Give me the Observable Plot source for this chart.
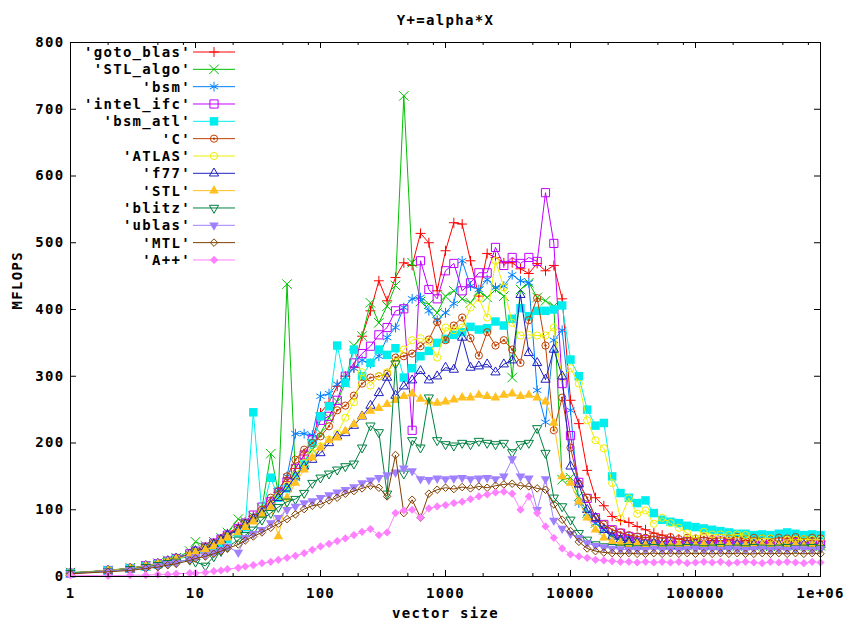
<!DOCTYPE html>
<html><head><meta charset="utf-8">
<script src="https://cdn.jsdelivr.net/npm/d3@7"></script>
<script src="https://cdn.jsdelivr.net/npm/@observablehq/plot@0.6"></script>
<style>
body{margin:0;background:#fff;}
#wrap{position:relative;width:845px;height:628px;background:#fff;}
#legend{position:absolute;left:0;top:0;pointer-events:none;}
</style></head><body><div id="wrap"></div>
<script>
// vector sizes (x)
const sizes = [1,2,3,4,5,6,7,9,10,12,
 14,16,18,22,25,29,34,40,46,54,
 63,74,86,100,117,136,158,185,215,251,
 293,341,398,464,541,631,736,858,1000,1166,
 1359,1585,1848,2154,2512,2929,3415,3981,4642,5412,
 6310,7356,8577,10000,11659,13594,15849,18478,21544,25119,
 29286,34145,39811,46416,54117,63096,73564,85770,100000,116591,
 135936,158489,184785,215443,251189,292864,341455,398107,464159,541170,
 630957,735642,857696,1000000];

const seriesLabels = ["'goto_blas'","'STL_algo'","'bsm'","'intel_ifc'","'bsm_atl'","'C'","'ATLAS'","'f77'","'STL'","'blitz'","'ublas'","'MTL'","'A++'"];

// MFLOPS per series
const goto_blas = [5,9,12,16,19,23,27,34,38,44,
 50,56,64,74,82,90,100,112,126,142,
 162,182,205,245,261,285,300,313,360,398,
 443,413,448,470,466,514,500,428,488,530,
 528,473,420,484,478,470,470,461,454,469,
 458,466,416,264,229,159,118,106,90,84,
 81,75,70,65,62,58,56,54,55,52,
 54,53,55,52,54,53,51,54,52,53,
 55,52,54,53];
const STL_algo = [6,9,13,16,20,24,28,38,52,46,
 52,58,66,86,82,90,102,184,125,438,
 150,172,190,215,238,262,290,346,360,410,
 380,405,436,720,470,412,408,395,420,428,
 416,410,428,418,430,420,298,430,440,418,
 413,405,145,148,120,95,80,70,62,58,
 55,52,50,48,50,47,49,46,48,47,
 46,48,47,45,48,46,47,45,46,48,
 46,47,45,46];
const bsm = [5,9,12,15,20,24,28,34,39,44,
 50,56,62,72,80,88,98,110,130,150,
 214,214,212,270,274,288,298,312,324,319,
 330,358,373,403,416,418,398,384,395,409,
 473,435,430,445,433,435,452,443,440,279,
 231,354,369,249,110,95,80,70,64,60,
 58,55,53,52,50,51,49,50,48,50,
 49,51,48,50,49,52,50,49,51,50,
 49,51,50,49];
const intel_ifc = [5,9,12,16,19,23,27,34,38,44,
 50,56,62,72,80,92,104,112,126,142,
 162,182,205,234,240,264,300,320,334,345,
 362,373,398,401,219,473,430,416,458,469,
 428,440,455,455,493,466,478,469,478,472,
 575,499,289,211,141,117,88,78,70,65,
 60,58,55,54,52,53,51,52,50,52,
 51,53,50,52,51,50,52,51,53,50,
 51,52,50,51];
const bsm_atl = [5,9,12,15,18,22,26,30,34,38,
 44,50,56,66,74,246,95,148,118,132,
 150,168,200,240,255,346,290,340,300,320,
 340,332,342,298,312,330,338,350,356,362,
 366,374,370,372,382,376,386,402,390,398,
 398,400,406,325,300,250,226,230,150,125,
 118,110,114,95,85,82,80,76,74,72,
 70,68,66,64,64,62,63,62,64,66,
 64,62,63,62];
const C = [5,9,12,15,19,23,27,34,38,44,
 50,56,62,72,80,88,100,118,128,150,
 175,190,200,210,225,249,256,271,289,298,
 300,304,328,330,334,345,355,381,354,376,
 388,357,331,366,346,354,340,320,384,417,
 346,219,268,193,139,118,88,78,70,66,
 62,60,58,60,57,59,56,58,57,59,
 56,58,57,59,56,58,57,56,58,57,
 59,56,58,57];
const ATLAS = [5,9,12,15,19,23,27,33,37,42,
 48,54,60,70,78,86,96,108,120,136,
 152,170,185,195,205,214,238,261,306,286,
 300,306,321,340,354,357,352,328,373,369,
 373,403,417,388,473,433,380,361,362,361,
 361,373,298,312,289,234,204,192,140,87,
 117,94,99,79,88,80,73,65,57,67,
 63,63,62,63,62,52,57,57,49,55,
 55,56,55,55];
const f77 = [5,9,12,16,19,23,27,33,38,42,
 48,55,62,70,78,86,95,106,118,132,
 150,165,175,185,200,210,215,226,240,256,
 275,298,271,285,294,308,294,300,313,310,
 358,313,315,318,306,318,324,422,335,320,
 295,340,300,165,138,100,88,70,60,55,
 52,50,48,49,47,48,46,47,48,46,
 47,46,48,47,46,47,48,46,47,46,
 48,47,46,47];
const STL = [5,9,12,16,19,22,26,32,36,40,
 45,52,58,66,74,82,92,104,60,118,
 140,160,178,193,204,208,218,228,240,248,
 252,258,264,270,274,266,262,260,262,265,
 268,268,272,270,268,272,274,270,272,268,
 262,230,150,140,112,88,70,58,52,50,
 48,49,47,48,46,47,48,46,47,48,
 46,47,48,46,47,46,48,47,46,47,
 48,46,47,46];
const blitz = [5,8,11,14,17,20,22,25,22,16,
 30,38,44,55,62,70,85,95,104,112,
 116,125,140,148,154,160,165,169,193,226,
 216,124,319,154,204,193,268,204,198,196,
 200,198,203,200,198,200,186,198,200,222,
 185,118,105,85,65,55,48,45,44,43,
 44,42,43,44,42,43,42,44,43,42,
 43,44,42,43,42,44,43,42,43,44,
 42,43,44,42];
const ublas = [4,8,10,13,16,19,21,26,29,32,
 36,40,45,36,58,64,70,80,88,100,
 105,110,113,118,122,126,130,134,140,144,
 148,152,156,162,158,146,145,147,146,147,
 148,146,147,148,146,150,176,150,147,100,
 146,84,72,64,58,50,46,44,42,41,
 40,41,40,42,40,41,40,41,42,40,
 41,40,42,41,40,41,42,40,41,40,
 42,41,40,41];
const MTL = [4,7,9,12,14,17,19,24,27,30,
 34,38,42,48,54,60,66,73,79,86,
 93,101,106,108,114,118,124,128,132,136,
 133,120,182,95,115,88,124,130,133,131,
 134,132,135,133,136,138,139,136,135,132,
 130,108,85,68,52,42,38,36,35,34,
 35,34,34,35,34,35,34,35,34,35,
 34,35,34,35,34,34,35,34,35,34,
 35,34,35,34];
const A_pp = [2,1,2,2,3,3,4,5,5,6,
 8,9,11,13,15,17,20,22,25,28,
 31,35,40,45,49,53,57,62,67,71,
 62,66,95,99,100,88,102,105,107,110,
 112,116,120,123,126,127,124,100,120,95,
 75,58,42,33,30,28,25,24,23,22,
 22,21,22,21,22,21,22,20,21,22,
 21,22,20,21,22,21,20,22,21,22,
 21,20,22,21];

const yTicks = [0,100,200,300,400,500,600,700,800];
const xTicks = [1,10,100,1000,10000,100000,1000000];
const xTickLabels = ["1","10","100","1000","10000","100000","1e+06"];
const xMinorTicks = [2,5,8,20,50,80,200,500,800,2000,5000,8000,20000,50000,80000,200000,500000,800000];

const seriesValues = [goto_blas,STL_algo,bsm,intel_ifc,bsm_atl,C,ATLAS,f77,STL,blitz,ublas,MTL,A_pp];

// styles
const invTri = {draw(ctx, size){const s=Math.sqrt(size)*0.6824,t=s/2,u=s*Math.sqrt(3)/2;ctx.moveTo(0,s);ctx.lineTo(-u,-t);ctx.lineTo(u,-t);ctx.closePath();}};
const styles = [
 {color:"#ff0000", symbol:"plus", r:3.3, filled:false},
 {color:"#00c000", symbol:"times", r:4.4, filled:false},
 {color:"#0080ff", symbol:"asterisk", r:4.6, filled:false},
 {color:"#c000ff", symbol:"square2", r:5.2, filled:false},
 {color:"#00eeee", symbol:"square2", r:5.4, filled:true},
 {color:"#c04000", symbol:"circle", r:3.6, filled:false, dot:true},
 {color:"#eeee00", symbol:"circle", r:3.6, filled:false},
 {color:"#2020c0", symbol:"triangle2", r:4.4, filled:false},
 {color:"#ffc020", symbol:"triangle2", r:4.6, filled:true},
 {color:"#008040", symbol:invTri, r:4.4, filled:false},
 {color:"#a080ff", symbol:invTri, r:4.6, filled:true},
 {color:"#804000", symbol:"diamond2", r:3.4, filled:false},
 {color:"#ff80ff", symbol:"diamond2", r:3.7, filled:true}
];

const W = 845, H = 628, mL = 70, mR = 25, mT = 42, mB = 52;
const pW = W - mL - mR, pH = H - mT - mB;
const FONT = "DejaVu Sans Mono";

const marks = [];
seriesValues.forEach((vals, k) => {
  const st = styles[k];
  const data = sizes.map((x, i) => ({x, y: vals[i]}));
  marks.push(Plot.line(data, {x: "x", y: "y", stroke: st.color, strokeWidth: 1}));
  marks.push(Plot.dot(data, {x: "x", y: "y", symbol: st.symbol, r: st.r,
    stroke: st.filled ? "none" : st.color, fill: st.filled ? st.color : "none", strokeWidth: 1}));
  if (st.dot) marks.push(Plot.dot(data, {x: "x", y: "y", r: 1.2, fill: st.color, stroke: "none"}));
});

const xLabelMap = new Map(xTicks.map((v, i) => [v, xTickLabels[i]]));

const chart = Plot.plot({
  width: W, height: H,
  marginLeft: mL, marginRight: mR, marginTop: mT, marginBottom: mB,
  style: {fontFamily: FONT, fontSize: "14px", fontWeight: "bold", letterSpacing: "1.3px", background: "#fff", color: "#000"},
  x: {type: "log", domain: [1, 1000000]},
  y: {domain: [0, 800]},
  marks: [
    ...marks,
    Plot.frame({stroke: "#000", strokeWidth: 1}),
    // inward ticks
    Plot.tickY(yTicks, {y: d => d, stroke: "#000", insetRight: pW - 6}),
    Plot.tickY(yTicks, {y: d => d, stroke: "#000", insetLeft: pW - 6}),
    Plot.tickX(xTicks, {x: d => d, stroke: "#000", insetTop: pH - 6}),
    Plot.tickX(xTicks, {x: d => d, stroke: "#000", insetBottom: pH - 6}),
    Plot.tickX(xMinorTicks, {x: d => d, stroke: "#000", insetTop: pH - 3}),
    Plot.tickX(xMinorTicks, {x: d => d, stroke: "#000", insetBottom: pH - 3}),
    Plot.axisY({ticks: yTicks, tickSize: 0, tickPadding: 6, label: null, tickFormat: d => String(d)}),
    Plot.axisX({ticks: xTicks, tickSize: 0, tickPadding: 12, label: null, tickFormat: d => xLabelMap.get(d)}),
    Plot.text(["Y+=alpha*X"], {frameAnchor: "top", dy: -27, text: d => d}),
    Plot.text(["vector size"], {frameAnchor: "bottom", dy: 41, text: d => d}),
    Plot.text(["MFLOPS"], {frameAnchor: "left", dx: -53, rotate: -90, text: d => d})
  ]
});

const wrap = document.getElementById("wrap");
wrap.appendChild(chart);

// legend (gnuplot key, top-left inside plot)
const symMap = {plus: d3.symbolPlus, times: d3.symbolTimes, asterisk: d3.symbolAsterisk, square2: d3.symbolSquare2, circle: d3.symbolCircle, triangle2: d3.symbolTriangle2, diamond2: d3.symbolDiamond2};
const leg = d3.select(wrap).append("svg").attr("id", "legend").attr("width", W).attr("height", 280)
  .style("font-family", FONT).style("font-size", "14px").style("font-weight", "bold").style("letter-spacing", "1.3px");
seriesLabels.forEach((lab, k) => {
  const st = styles[k];
  const y = 52 + k * 17.33;
  leg.append("text").attr("x", 191).attr("y", y).attr("text-anchor", "end").attr("dominant-baseline", "central").text(lab);
  leg.append("line").attr("x1", 193).attr("x2", 235).attr("y1", y).attr("y2", y).attr("stroke", st.color).attr("stroke-width", 1);
  const type = typeof st.symbol === "string" ? symMap[st.symbol] : st.symbol;
  leg.append("path").attr("transform", `translate(214,${y})`)
    .attr("d", d3.symbol(type, st.r * st.r * Math.PI)())
    .attr("fill", st.filled ? st.color : "none").attr("stroke", st.filled ? "none" : st.color).attr("stroke-width", 1);
  if (st.dot) leg.append("circle").attr("cx", 214).attr("cy", y).attr("r", 1.2).attr("fill", st.color);
});
</script>
</body></html>
